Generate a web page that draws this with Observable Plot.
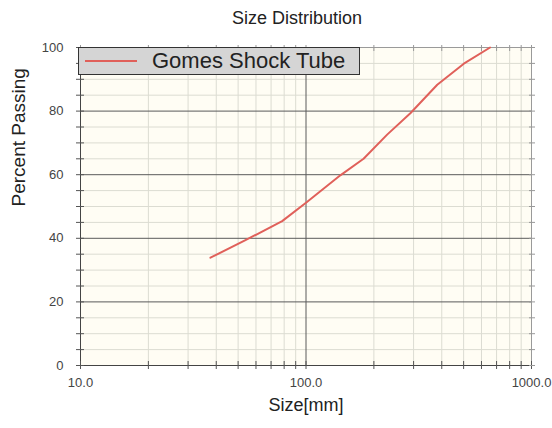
<!DOCTYPE html>
<html>
<head>
<meta charset="utf-8">
<script src="https://cdn.jsdelivr.net/npm/d3@7"></script>
<script src="https://cdn.jsdelivr.net/npm/@observablehq/plot@0.6"></script>
<style>
  body { margin: 0; background: #fff; font-family: "Liberation Sans", Arial, sans-serif; }
  #wrap { position: relative; width: 552px; height: 428px; }
  #title { height: 36px; line-height: 36px; font-size: 18px; color: #222; text-align: center; padding-left: 42px; box-sizing: border-box; width: 552px; }
  #legend { position: absolute; left: 78px; top: 47px; width: 282px; height: 28px; box-sizing: border-box;
            border: 1.5px solid #333; background: #d5d5d5; }
  #legend .swatch { position: absolute; left: 6px; top: 12px; width: 52px; height: 0; border-top: 2px solid #e0605a; }
  #legend .label { position: absolute; left: 73px; top: 0; line-height: 26px; font-size: 22px; color: #222; }
</style>
</head>
<body>
<div id="wrap">
  <div id="title">Size Distribution</div>
  <div id="chart"></div>
  <div id="legend"><div class="swatch"></div><div class="label">Gomes Shock Tube</div></div>
</div>
<script>
const seriesName = "Gomes Shock Tube";
const sizes   = [37.7, 53.9, 78.4, 100, 142, 180, 229, 291, 382, 501, 655];
const passing = [33.9, 39.4, 45.4, 51.2, 59.8, 65.0, 72.6, 79.4, 88.3, 94.9, 100];
const xTicks = [10, 100, 1000];
const yTicks = [0, 20, 40, 60, 80, 100];
const xMinor = [20, 30, 40, 50, 60, 70, 80, 90, 200, 300, 400, 500, 600, 700, 800, 900];
const yMinor = [5, 10, 15, 25, 30, 35, 45, 50, 55, 65, 70, 75, 85, 90, 95];

const data = sizes.map((s, i) => ({size: s, pct: passing[i]}));
const xAll = [...xTicks, ...xMinor];
const yAll = [...yTicks, ...yMinor];

const chart = Plot.plot({
  width: 552,
  height: 392,
  marginLeft: 80,
  marginRight: 21,
  marginTop: 11,
  marginBottom: 63,
  style: {fontFamily: "Liberation Sans, Arial, sans-serif", background: "#fff", color: "#333"},
  x: {type: "log", domain: [10, 1000]},
  y: {domain: [0, 100]},
  marks: [
    Plot.frame({fill: "#fffdf4", stroke: null}),
    Plot.ruleX(xMinor, {stroke: "#dcdcd2", strokeWidth: 1}),
    Plot.ruleY(yMinor, {stroke: "#dcdcd2", strokeWidth: 1}),
    Plot.ruleY([20, 40, 60, 80], {stroke: "#5a5a5a", strokeWidth: 1}),
    Plot.ruleX([100], {stroke: "#5a5a5a", strokeWidth: 1}),
    Plot.frame({stroke: "#9a9a9a"}),
    Plot.ruleX([10], {stroke: "#444"}),
    Plot.ruleY([0], {stroke: "#444"}),
    Plot.line(data, {x: "size", y: "pct", stroke: "#e0605a", strokeWidth: 2}),
    Plot.axisY(yAll, {tickSize: 8, dx: 4, tickFormat: () => "", label: null, stroke: "#555"}),
    Plot.axisX(xAll, {tickSize: 8, dy: -4, tickFormat: () => "", label: null, stroke: "#555"}),
    Plot.axisY(yAll, {anchor: "right", tickSize: 6, dx: -3, tickFormat: () => "", label: null, stroke: "#999"}),
    Plot.axisX(xAll, {anchor: "top", tickSize: 6, dy: 3, tickFormat: () => "", label: null, stroke: "#999"}),
    Plot.axisY(yTicks, {tickSize: 0, tickPadding: 17, fontSize: 13, label: null, fill: "#444"}),
    Plot.axisX(xTicks, {tickSize: 0, tickPadding: 12, fontSize: 13, label: null, tickFormat: d => d.toFixed(1), fill: "#444"}),
    Plot.text(["Size[mm]"], {frameAnchor: "bottom", dy: 45, fontSize: 18, fill: "#222"}),
    Plot.text(["Percent Passing"], {frameAnchor: "left", dx: -62, rotate: -90, fontSize: 19, fill: "#222"})
  ]
});
document.getElementById("chart").appendChild(chart);
</script>
</body>
</html>
